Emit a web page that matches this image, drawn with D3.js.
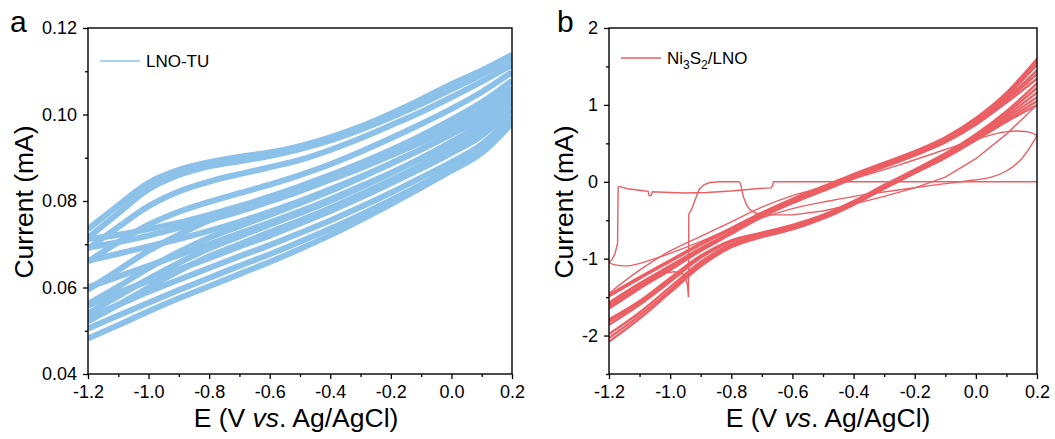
<!DOCTYPE html>
<html>
<head>
<meta charset="utf-8">
<script src="https://cdn.jsdelivr.net/npm/d3@7"></script>
<style>
  body { margin: 0; background: #fff; }
  svg { font-family: Arial, "Liberation Sans", sans-serif; }
</style>
</head>
<body>
<svg id="chart" width="1055" height="439"></svg>
<script>
// CV curves: LNO-TU (a) and Ni3S2/LNO (b)

const potentials = [-1.2, -1.1, -1.0, -0.9, -0.8, -0.7, -0.6, -0.5, -0.4, -0.3, -0.2, -0.1, 0.0, 0.1, 0.2];
const xTicks = [-1.2, -1.0, -0.8, -0.6, -0.4, -0.2, 0.0, 0.2];
const xMinor = [-1.1, -0.9, -0.7, -0.5, -0.3, -0.1, 0.1];

// panel a, one anodic + one cathodic sweep per cycle (mA)
const lnoAnodic = [
  [0.0735, 0.0790, 0.0842, 0.0872, 0.0890, 0.0902, 0.0912, 0.0927, 0.0947, 0.0972, 0.1002, 0.1035, 0.1070, 0.1102, 0.1138],
  [0.0715, 0.0772, 0.0827, 0.0860, 0.0880, 0.0892, 0.0904, 0.0920, 0.0940, 0.0965, 0.0993, 0.1024, 0.1058, 0.1092, 0.1128],
  [0.0690, 0.0740, 0.0788, 0.0822, 0.0845, 0.0862, 0.0878, 0.0895, 0.0918, 0.0945, 0.0975, 0.1006, 0.1040, 0.1076, 0.1115],
  [0.0660, 0.0705, 0.0745, 0.0775, 0.0798, 0.0818, 0.0838, 0.0860, 0.0885, 0.0914, 0.0945, 0.0978, 0.1013, 0.1052, 0.1098],
  [0.0595, 0.0640, 0.0685, 0.0722, 0.0755, 0.0780, 0.0805, 0.0830, 0.0857, 0.0887, 0.0918, 0.0951, 0.0988, 0.1028, 0.1078],
  [0.0562, 0.0602, 0.0645, 0.0682, 0.0715, 0.0742, 0.0768, 0.0795, 0.0823, 0.0854, 0.0886, 0.0920, 0.0958, 0.0998, 0.1052],
  [0.0540, 0.0580, 0.0620, 0.0657, 0.0690, 0.0718, 0.0745, 0.0772, 0.0800, 0.0831, 0.0864, 0.0899, 0.0937, 0.0978, 0.1032],
  [0.0522, 0.0560, 0.0600, 0.0638, 0.0672, 0.0700, 0.0728, 0.0755, 0.0784, 0.0815, 0.0848, 0.0883, 0.0921, 0.0962, 0.1012]
];
const lnoCathodic = [
  [0.0712, 0.0722, 0.0735, 0.0750, 0.0768, 0.0788, 0.0810, 0.0834, 0.0860, 0.0887, 0.0915, 0.0945, 0.0978, 0.1013, 0.1062],
  [0.0692, 0.0705, 0.0720, 0.0738, 0.0756, 0.0776, 0.0799, 0.0823, 0.0849, 0.0876, 0.0905, 0.0936, 0.0969, 0.1005, 0.1052],
  [0.0662, 0.0678, 0.0695, 0.0712, 0.0731, 0.0752, 0.0775, 0.0800, 0.0827, 0.0856, 0.0887, 0.0919, 0.0954, 0.0992, 0.1042],
  [0.0600, 0.0625, 0.0650, 0.0675, 0.0700, 0.0725, 0.0750, 0.0776, 0.0804, 0.0834, 0.0865, 0.0898, 0.0933, 0.0972, 0.1027],
  [0.0558, 0.0588, 0.0615, 0.0642, 0.0668, 0.0695, 0.0720, 0.0748, 0.0777, 0.0808, 0.0841, 0.0875, 0.0911, 0.0951, 0.1012],
  [0.0530, 0.0560, 0.0590, 0.0618, 0.0645, 0.0672, 0.0698, 0.0726, 0.0755, 0.0786, 0.0819, 0.0854, 0.0890, 0.0931, 0.0997],
  [0.0505, 0.0535, 0.0565, 0.0594, 0.0622, 0.0650, 0.0677, 0.0706, 0.0736, 0.0768, 0.0802, 0.0838, 0.0876, 0.0917, 0.0987],
  [0.0482, 0.0513, 0.0545, 0.0575, 0.0603, 0.0631, 0.0659, 0.0689, 0.0721, 0.0756, 0.0793, 0.0831, 0.0870, 0.0911, 0.0980]
];
const aYTicks = [0.04, 0.06, 0.08, 0.10, 0.12];
const aYMinor = [0.05, 0.07, 0.09, 0.11];

// panel b cycles (mA)
const niAnodic = [
  [-1.47, -1.24, -1.02, -0.80, -0.60, -0.40, -0.22, -0.06, 0.10, 0.25, 0.40, 0.58, 0.83, 1.16, 1.60],
  [-1.49, -1.26, -1.04, -0.82, -0.62, -0.41, -0.23, -0.07, 0.09, 0.24, 0.39, 0.57, 0.82, 1.14, 1.56],
  [-1.57, -1.32, -1.09, -0.86, -0.65, -0.43, -0.25, -0.09, 0.07, 0.22, 0.37, 0.54, 0.79, 1.11, 1.52],
  [-1.60, -1.35, -1.11, -0.87, -0.66, -0.44, -0.26, -0.10, 0.06, 0.21, 0.36, 0.53, 0.77, 1.08, 1.45],
  [-1.63, -1.37, -1.13, -0.89, -0.67, -0.45, -0.27, -0.11, 0.05, 0.20, 0.35, 0.52, 0.76, 1.06, 1.40],
  [-1.65, -1.39, -1.15, -0.90, -0.68, -0.46, -0.28, -0.12, 0.04, 0.19, 0.34, 0.51, 0.74, 1.03, 1.34]
];
const niCathodic = [
  [-2.08, -1.78, -1.44, -1.10, -0.85, -0.72, -0.62, -0.48, -0.30, -0.09, 0.11, 0.31, 0.54, 0.78, 1.00],
  [-2.03, -1.74, -1.41, -1.07, -0.83, -0.71, -0.61, -0.47, -0.29, -0.08, 0.12, 0.32, 0.55, 0.80, 1.05],
  [-1.98, -1.70, -1.37, -1.04, -0.81, -0.70, -0.60, -0.46, -0.28, -0.07, 0.13, 0.34, 0.57, 0.83, 1.10],
  [-1.86, -1.60, -1.30, -0.99, -0.78, -0.68, -0.58, -0.45, -0.27, -0.06, 0.14, 0.35, 0.59, 0.86, 1.16],
  [-1.82, -1.57, -1.27, -0.97, -0.77, -0.67, -0.57, -0.44, -0.26, -0.05, 0.15, 0.36, 0.61, 0.89, 1.22],
  [-1.79, -1.55, -1.25, -0.96, -0.76, -0.66, -0.56, -0.43, -0.25, -0.04, 0.16, 0.37, 0.62, 0.92, 1.28]
];
// first scans of panel b, [E, I] pairs
const niRest = [[0.2, 0], [-0.662, 0], [-0.665, -0.05], [-0.67, -0.08], [-0.72, -0.09], [-0.8, -0.12], [-0.88, -0.14],
  [-0.95, -0.145], [-1.0, -0.14], [-1.058, -0.13], [-1.062, -0.18], [-1.069, -0.18], [-1.072, -0.125], [-1.1, -0.11],
  [-1.14, -0.09], [-1.165, -0.06], [-1.17, -0.07], [-1.172, -0.8], [-1.18, -0.93], [-1.19, -1.01], [-1.2, -1.05]];
const niFirstUp = [[-1.2, -1.05], [-1.18, -1.08], [-1.13, -1.09], [-1.05, -1.0], [-0.94, -0.84], [-0.8, -0.61],
  [-0.7, -0.47], [-0.59, -0.34], [-0.48, -0.25], [-0.37, -0.17], [-0.26, -0.11], [-0.15, -0.05], [-0.03, 0.01],
  [0.05, 0.06], [0.1, 0.14], [0.15, 0.3], [0.2, 0.6]];
const niFirstDown = [[0.2, 0.6], [0.18, 0.64], [0.13, 0.66], [0.07, 0.63], [0.0, 0.55], [-0.1, 0.42], [-0.25, 0.22],
  [-0.4, 0.04], [-0.5, -0.07], [-0.6, -0.18], [-0.7, -0.33], [-0.8, -0.52], [-0.9, -0.71], [-1.0, -0.9],
  [-1.1, -1.15], [-1.2, -1.45]];
const niSpike = [[-1.1, -1.33], [-1.05, -1.24], [-1.02, -1.19], [-0.99, -1.17], [-0.965, -1.18], [-0.95, -1.24],
  [-0.943, -1.35], [-0.94, -1.5], [-0.939, -0.42], [-0.93, -0.36], [-0.915, -0.2], [-0.905, -0.1], [-0.89, -0.04],
  [-0.87, -0.01], [-0.84, 0], [-0.775, 0], [-0.77, -0.02], [-0.76, -0.2], [-0.75, -0.3], [-0.74, -0.36],
  [-0.72, -0.41], [-0.68, -0.43], [-0.6, -0.43], [-0.5, -0.38], [-0.4, -0.29], [-0.3, -0.19], [-0.2, -0.08],
  [-0.1, 0.06], [0.0, 0.3], [0.1, 0.62], [0.2, 1.0]];
const bYTicks = [-2, -1, 0, 1, 2];
const bYMinor = [-2.5, -1.5, -0.5, 0.5, 1.5];

const blue = '#8cc2ea';
const red = '#eb5f64';

const svg = d3.select('#chart');

function drawPanel(opt){
  const x = d3.scaleLinear().domain([-1.2, 0.2]).range([opt.left, opt.right]);
  const y = d3.scaleLinear().domain(opt.yDomain).range([374, 28]);

  const clipId = 'clip-' + opt.letter;
  svg.append('clipPath').attr('id', clipId)
    .append('rect')
      .attr('x', opt.left).attr('y', 28)
      .attr('width', opt.right - opt.left).attr('height', 346);

  const plot = svg.append('g').attr('clip-path', `url(#${clipId})`);
  const line = d3.line()
    .x(d => x(d[0]))
    .y(d => y(d[1]));

  opt.drawCurves(plot, line);

  // minor + major ticks
  const xAxisMinor = d3.axisBottom(x).tickValues(xMinor).tickSize(3).tickFormat('');
  const xAxis = d3.axisBottom(x).tickValues(xTicks).tickSize(5).tickPadding(6)
    .tickFormat(d => d.toFixed(1));
  const yAxisMinor = d3.axisLeft(y).tickValues(opt.yMinor).tickSize(3).tickFormat('');
  const yAxis = d3.axisLeft(y).tickValues(opt.yTicks).tickSize(5).tickPadding(6)
    .tickFormat(opt.yFormat);

  [xAxisMinor, xAxis].forEach(ax => {
    svg.append('g').attr('transform', 'translate(0,374)').call(ax)
      .call(g => g.select('.domain').remove());
  });
  [yAxisMinor, yAxis].forEach(ax => {
    svg.append('g').attr('transform', `translate(${opt.left},0)`).call(ax)
      .call(g => g.select('.domain').remove());
  });
  svg.selectAll('.tick line').attr('stroke', '#000').attr('stroke-width', 1.3);
  svg.selectAll('.tick text').attr('fill', '#000').style('font-size', '18px')
    .style('font-family', 'Arial, "Liberation Sans", sans-serif');

  svg.append('rect')
    .attr('x', opt.left).attr('y', 28)
    .attr('width', opt.right - opt.left).attr('height', 346)
    .attr('fill', 'none').attr('stroke', '#000').attr('stroke-width', 1.4);

  // titles
  svg.append('text')
    .attr('x', (opt.left + opt.right) / 2 + opt.xTitleShift).attr('y', 427)
    .attr('text-anchor', 'middle').style('font-size', '26.5px')
    .html('E (V <tspan font-style="italic">vs</tspan>. Ag/AgCl)');
  svg.append('text')
    .attr('transform', `translate(${opt.yTitleX},${202}) rotate(-90)`)
    .attr('text-anchor', 'middle').style('font-size', '26.5px')
    .text('Current (mA)');
  svg.append('text')
    .attr('x', opt.letterX).attr('y', 32)
    .style('font-size', '30px')
    .text(opt.letter);

  // legend
  const lg = svg.append('g').attr('transform', `translate(${opt.left + 12},${opt.legendY})`);
  lg.append('line').attr('x1', 0).attr('x2', 40).attr('y1', 0).attr('y2', 0)
    .attr('stroke', opt.color).attr('stroke-width', 1.3);
  lg.append('text').attr('x', 46).attr('y', 6).style('font-size', '17px').html(opt.legendHtml);
}

function drawSweeps(plot, line, up, down, color, width){
  up.forEach((cyc, i) => {
    [cyc, down[i]].forEach(vals => {
      plot.append('path')
        .attr('d', line.curve(d3.curveMonotoneX)(potentials.map((e, j) => [e, vals[j]])))
        .attr('fill', 'none').attr('stroke', color).attr('stroke-width', width)
        .attr('stroke-linejoin', 'round');
    });
  });
}

drawPanel({
  letter: 'a', letterX: 10, left: 88, right: 512,
  yDomain: [0.04, 0.12], yTicks: aYTicks, yMinor: aYMinor,
  yFormat: d => d.toFixed(2), yTitleX: 33, xTitleShift: -4,
  color: blue, legendY: 61, legendHtml: 'LNO-TU',
  drawCurves: (plot, line) => drawSweeps(plot, line, lnoAnodic, lnoCathodic, blue, 6)
});

drawPanel({
  letter: 'b', letterX: 557, left: 609, right: 1037,
  yDomain: [-2.5, 2], yTicks: bYTicks, yMinor: bYMinor,
  yFormat: d => String(d), yTitleX: 573, xTitleShift: 5,
  color: red, legendY: 58,
  legendHtml: 'Ni<tspan dy="5" font-size="12px">3</tspan><tspan dy="-5">S</tspan><tspan dy="5" font-size="12px">2</tspan><tspan dy="-5">/LNO</tspan>',
  drawCurves: (plot, line) => {
    [niRest, niSpike].forEach(tr => {
      plot.append('path').attr('d', line.curve(d3.curveLinear)(tr))
        .attr('fill', 'none').attr('stroke', red).attr('stroke-width', 1.4);
    });
    [niFirstUp, niFirstDown].forEach(tr => {
      plot.append('path').attr('d', line.curve(d3.curveCatmullRom)(tr))
        .attr('fill', 'none').attr('stroke', red).attr('stroke-width', 1.4);
    });
    drawSweeps(plot, line, niAnodic, niCathodic, red, 2.3);
  }
});
</script>
</body>
</html>
